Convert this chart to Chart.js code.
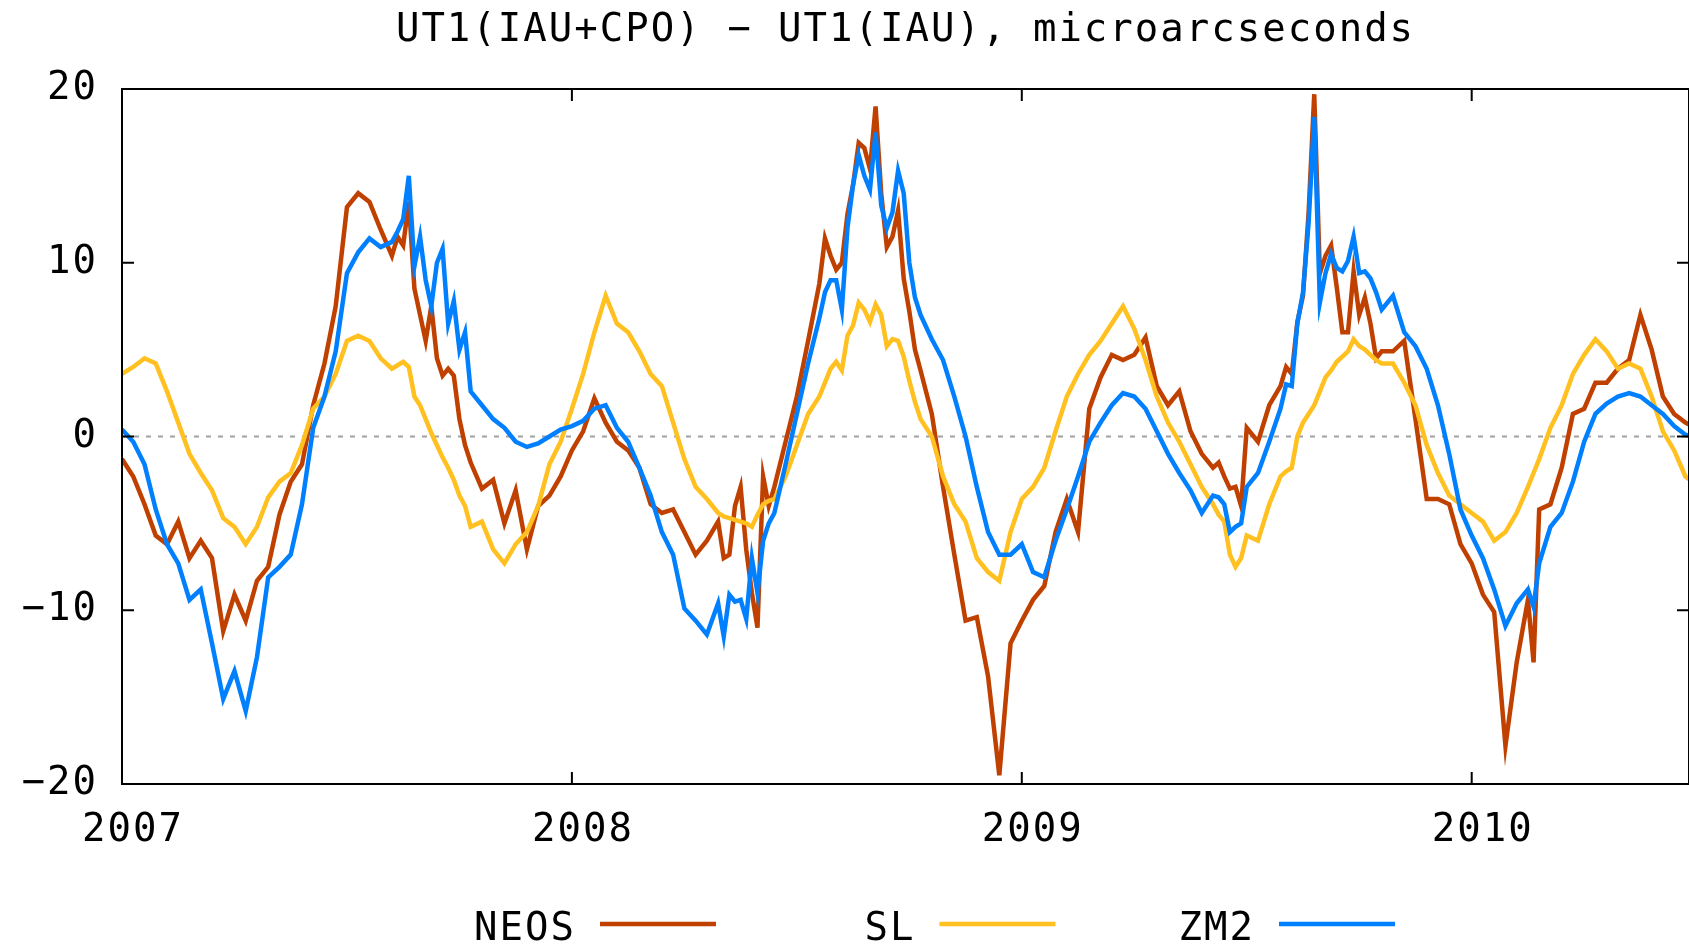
<!DOCTYPE html>
<html>
<head>
<meta charset="utf-8">
<title>UT1(IAU+CPO) − UT1(IAU)</title>
<script src="https://cdn.jsdelivr.net/npm/chart.js@4.4.0/dist/chart.umd.min.js"></script>
<style>
    html, body { margin: 0; padding: 0; background: #fff; overflow: hidden; }
</style>
</head>
<body>
<canvas id="utChart" width="1689" height="946"></canvas>
<script>
// ============== DATA (microarcseconds) ==============

const chartTitle = 'UT1(IAU+CPO) \u2212 UT1(IAU), microarcseconds';
const seriesNames = ['NEOS', 'SL', 'ZM2'];
const seriesColors = ['#c04000', '#ffc020', '#0080ff'];
const yearTicks = [2007, 2008, 2009, 2010];
const valueTicks = [-20, -10, 0, 10, 20];

// decimal years of the samples (denser where the curves are noisy)
const dates = [
    2007.000, 2007.025, 2007.050, 2007.075, 2007.100, 2007.125, 2007.150, 2007.175, 2007.200, 2007.225,
    2007.250, 2007.275, 2007.300, 2007.325, 2007.350, 2007.375, 2007.400, 2007.425, 2007.450, 2007.475,
    2007.500, 2007.525, 2007.550, 2007.575,
    2007.600, 2007.6125, 2007.625, 2007.6375, 2007.650, 2007.6625, 2007.675, 2007.6875, 2007.700, 2007.7125,
    2007.725, 2007.7375, 2007.750, 2007.7625, 2007.775,
    2007.800, 2007.825, 2007.850, 2007.875, 2007.900, 2007.925, 2007.950, 2007.975, 2008.000, 2008.025,
    2008.050, 2008.075, 2008.100, 2008.125, 2008.150, 2008.175, 2008.200, 2008.225, 2008.250, 2008.275,
    2008.300,
    2008.325, 2008.3375, 2008.350, 2008.3625, 2008.375, 2008.3875, 2008.400, 2008.4125, 2008.425, 2008.4375,
    2008.450,
    2008.475, 2008.500,
    2008.525, 2008.550, 2008.5625, 2008.575, 2008.5875, 2008.600, 2008.6125, 2008.625, 2008.6375, 2008.650,
    2008.6625, 2008.675, 2008.6875, 2008.700, 2008.7125, 2008.725, 2008.7375, 2008.750, 2008.7625, 2008.775,
    2008.800, 2008.825, 2008.850, 2008.875, 2008.900, 2008.925, 2008.950, 2008.975, 2009.000, 2009.025,
    2009.050, 2009.075, 2009.100, 2009.125, 2009.150, 2009.175, 2009.200, 2009.225, 2009.250, 2009.275,
    2009.300, 2009.325, 2009.350, 2009.375, 2009.400,
    2009.425, 2009.4375, 2009.450, 2009.4625, 2009.475, 2009.4875, 2009.500,
    2009.525, 2009.550,
    2009.575, 2009.5875, 2009.600, 2009.6125, 2009.625, 2009.6375, 2009.650, 2009.6625, 2009.675, 2009.6875,
    2009.700, 2009.7125, 2009.725, 2009.7375, 2009.750, 2009.7625, 2009.775, 2009.7875, 2009.800,
    2009.825, 2009.850, 2009.875, 2009.900, 2009.925, 2009.950, 2009.975, 2010.000, 2010.025, 2010.050,
    2010.075, 2010.100, 2010.125, 2010.1375, 2010.150, 2010.175, 2010.200, 2010.225, 2010.250, 2010.275,
    2010.300, 2010.325, 2010.350, 2010.375, 2010.400, 2010.425, 2010.450, 2010.475, 2010.490
];

const neos = [
    -1.3, -2.3, -3.9, -5.7, -6.2, -4.9, -7.0, -6.0, -7.0, -11.2,
    -9.1, -10.6, -8.3, -7.5, -4.5, -2.6, -1.6, 1.8, 4.2, 7.5,
    13.2, 14.0, 13.5, 11.9,
    10.4, 11.5, 11.0, 13.5, 8.5, 7.0, 5.5, 7.5, 4.5, 3.5,
    3.9, 3.5, 1.0, -0.5, -1.5,
    -3.0, -2.5, -5.0, -3.1, -6.5, -4.0, -3.4, -2.3, -0.8, 0.3,
    2.2, 0.8, -0.3, -0.8, -1.8, -3.9, -4.4, -4.2, -5.5, -6.8,
    -6.0,
    -4.9, -7.0, -6.8, -4.0, -2.9, -6.5, -9.0, -11.0, -2.3, -4.0,
    -2.9,
    -0.3, 2.3,
    5.5, 8.8, 11.4, 10.4, 9.6, 10.0, 12.8, 14.5, 16.9, 16.6,
    15.4, 19.0, 14.0, 10.9, 11.5, 13.0, 9.1, 7.2, 5.0, 3.8,
    1.3, -2.9, -6.8, -10.6, -10.4, -13.8, -19.5, -11.9, -10.6, -9.4,
    -8.6, -5.5, -3.6, -5.5, 1.6, 3.4, 4.7, 4.4, 4.7, 5.7,
    2.9, 1.8, 2.6, 0.3, -1.0,
    -1.8, -1.5, -2.3, -3.0, -2.9, -4.0, 0.5,
    -0.3, 1.8,
    2.9, 4.0, 3.6, 6.6, 8.1, 12.9, 19.7, 9.4, 10.4, 11.0,
    8.6, 6.0, 6.0, 9.5, 7.0, 8.0, 6.5, 4.5, 4.9,
    4.9, 5.5, 1.0, -3.6, -3.6, -3.9, -6.2, -7.3, -9.1, -10.1,
    -17.8, -13.0, -9.4, -13.0, -4.2, -3.9, -1.8, 1.3, 1.6, 3.1,
    3.1, 3.9, 4.4, 7.0, 5.0, 2.3, 1.3, 0.8, 0.6
];

const sl = [
    3.6, 4.0, 4.5, 4.2, 2.6, 0.8, -1.0, -2.1, -3.1, -4.7,
    -5.2, -6.2, -5.2, -3.5, -2.6, -2.1, -0.5, 1.6, 2.3, 3.6,
    5.5, 5.8, 5.5, 4.5,
    3.9, 4.1, 4.3, 4.0, 2.3, 1.8, 1.0, 0.2, -0.5, -1.2,
    -1.8, -2.5, -3.4, -4.0, -5.2,
    -4.9, -6.5, -7.3, -6.2, -5.5, -4.0, -1.6, -0.3, 1.6, 3.6,
    6.0, 8.1, 6.5, 6.0, 4.9, 3.6, 2.9, 0.8, -1.3, -2.9,
    -3.6,
    -4.4, -4.6, -4.7, -4.8, -4.9, -5.0, -5.2, -4.5, -3.9, -3.7,
    -3.6,
    -2.3, -0.5,
    1.3, 2.3, 3.1, 3.9, 4.3, 3.8, 5.8, 6.4, 7.7, 7.3,
    6.6, 7.6, 7.0, 5.2, 5.6, 5.5, 4.6, 3.2, 2.0, 1.0,
    0.0, -2.3, -3.9, -4.9, -7.0, -7.8, -8.3, -5.5, -3.6, -2.9,
    -1.8, 0.3, 2.3, 3.6, 4.7, 5.5, 6.5, 7.5, 6.2, 4.4,
    2.3, 0.8, -0.3, -1.6, -2.9,
    -3.9, -4.5, -4.9, -6.8, -7.5, -7.0, -5.7,
    -6.0, -3.9,
    -2.3, -2.0, -1.8, 0.0, 0.8, 1.3, 1.8, 2.6, 3.4, 3.8,
    4.3, 4.6, 4.9, 5.6, 5.2, 5.0, 4.7, 4.4, 4.2,
    4.2, 3.1, 1.8, -0.5, -2.1, -3.4, -3.9, -4.4, -4.9, -6.0,
    -5.5, -4.4, -2.9, -2.1, -1.3, 0.5, 1.8, 3.6, 4.7, 5.6,
    4.9, 3.9, 4.2, 3.9, 2.3, 0.3, -0.8, -2.3, -2.6
];

const zm2 = [
    0.4, -0.3, -1.6, -4.2, -6.2, -7.3, -9.4, -8.8, -11.9, -15.1,
    -13.5, -15.8, -12.7, -8.1, -7.5, -6.8, -3.9, 0.5, 2.3, 4.9,
    9.4, 10.6, 11.4, 10.9,
    11.2, 11.8, 12.5, 15.0, 9.8, 11.5, 9.0, 7.5, 10.0, 10.8,
    6.5, 7.8, 5.0, 6.0, 2.6,
    1.8, 1.0, 0.5, -0.3, -0.6, -0.4, 0.0, 0.4, 0.6, 0.9,
    1.6, 1.8, 0.5, -0.3, -1.8, -3.4, -5.5, -6.8, -9.9, -10.6,
    -11.4,
    -9.6, -11.5, -9.1, -9.5, -9.4, -10.5, -7.0, -9.0, -6.0, -5.0,
    -4.4,
    -1.6, 1.3,
    4.2, 6.8, 8.3, 9.0, 9.0, 7.3, 12.0, 14.5, 16.2, 15.0,
    14.2, 17.5, 13.3, 12.0, 12.9, 15.3, 14.0, 10.0, 8.0, 7.0,
    5.6, 4.4, 2.3, 0.0, -2.9, -5.5, -6.8, -6.8, -6.2, -7.8,
    -8.1, -6.0, -4.2, -2.3, -0.3, 0.8, 1.8, 2.5, 2.3, 1.6,
    0.3, -1.0, -2.1, -3.1, -4.4,
    -3.4, -3.5, -3.9, -5.5, -5.2, -5.0, -2.9,
    -2.1, -0.3,
    1.6, 3.0, 2.9, 6.5, 8.3, 12.3, 18.4, 7.7, 9.4, 10.5,
    9.7, 9.5, 10.1, 11.5, 9.4, 9.5, 9.1, 8.3, 7.3,
    8.1, 6.0, 5.2, 3.9, 1.8, -1.0, -4.2, -5.7, -7.0, -8.8,
    -10.9, -9.6, -8.8, -9.8, -7.3, -5.2, -4.4, -2.6, -0.3, 1.3,
    1.9, 2.3, 2.5, 2.3, 1.8, 1.3, 0.6, 0.1, 0.0
];

// ============== STYLE ==============

const FONT_FAMILY = '"DejaVu Sans Mono", monospace';
const FONT_SIZE = 39;
const FONT = `${FONT_SIZE}px ${FONT_FAMILY}`;

// the plot is cut off on the right, like in the original picture
const X_MAX = 2010.483;

function toPoints(values) {
    return dates.map((d, i) => ({ x: d, y: values[i] }));
}

function minusLabel(v) {
    return v < 0 ? '\u2212' + Math.abs(v) : String(v);
}

// Frame, zero axis, title and legend drawn gnuplot-style
const gnuplotLook = {
    id: 'gnuplotLook',
    beforeDraw(chart) {
        chart.ctx.letterSpacing = '2px';
    },
    beforeDatasetsDraw(chart) {
        const { ctx, chartArea: a, scales } = chart;
        const y0 = scales.y.getPixelForValue(0);
        ctx.save();
        ctx.strokeStyle = '#a0a0a0';
        ctx.lineWidth = 2;
        ctx.setLineDash([5, 7]);
        ctx.beginPath();
        ctx.moveTo(a.left, y0);
        ctx.lineTo(a.right, y0);
        ctx.stroke();
        ctx.restore();
    },
    afterDatasetsDraw(chart) {
        const { ctx, chartArea: a, scales } = chart;
        const tick = 12;
        ctx.save();
        ctx.strokeStyle = '#000';
        ctx.lineWidth = 2;
        ctx.strokeRect(a.left, a.top, a.right - a.left, a.bottom - a.top);
        ctx.beginPath();
        yearTicks.forEach(v => {
            const x = scales.x.getPixelForValue(v);
            ctx.moveTo(x, a.bottom); ctx.lineTo(x, a.bottom - tick);
            ctx.moveTo(x, a.top); ctx.lineTo(x, a.top + tick);
        });
        valueTicks.forEach(v => {
            const y = scales.y.getPixelForValue(v);
            ctx.moveTo(a.left, y); ctx.lineTo(a.left + tick, y);
            ctx.moveTo(a.right, y); ctx.lineTo(a.right - tick, y);
        });
        ctx.stroke();
        ctx.restore();
    },
    afterDraw(chart) {
        const { ctx, chartArea: a } = chart;
        ctx.save();
        ctx.font = FONT;
        ctx.fillStyle = '#000';
        ctx.textBaseline = 'alphabetic';

        // title, centred over the plot
        ctx.textAlign = 'center';
        ctx.fillText(chartTitle, (a.left + a.right) / 2, 41);

        // legend: name, then a line sample, in equal columns
        ctx.textAlign = 'right';
        chart.data.datasets.forEach((ds, i) => {
            const lineStart = 600 + 339.5 * i;
            ctx.fillStyle = '#000';
            ctx.fillText(ds.label, lineStart - 24, 940);
            ctx.strokeStyle = ds.borderColor;
            ctx.lineWidth = 4.5;
            ctx.beginPath();
            ctx.moveTo(lineStart, 924);
            ctx.lineTo(lineStart + 116, 924);
            ctx.stroke();
        });
        ctx.restore();
    }
};

const ctx = document.getElementById('utChart').getContext('2d');

const utChart = new Chart(ctx, {
    type: 'line',
    data: {
        datasets: [neos, sl, zm2].map((values, i) => ({
            label: seriesNames[i],
            data: toPoints(values),
            borderColor: seriesColors[i],
            backgroundColor: seriesColors[i],
            borderWidth: 4.5,
            pointRadius: 0,
            tension: 0,
            fill: false,
            order: 2 - i   // ZM2 drawn last, on top
        }))
    },
    options: {
        responsive: false,
        animation: false,
        devicePixelRatio: 1,
        layout: { padding: { top: 89, right: 0, bottom: 0, left: 0 } },
        plugins: {
            legend: { display: false },
            title: { display: false },
            tooltip: { enabled: false }
        },
        scales: {
            x: {
                type: 'linear',
                min: 2007,
                max: X_MAX,
                grid: { display: false, drawTicks: false },
                border: { display: false },
                ticks: {
                    stepSize: 1,
                    includeBounds: false,
                    autoSkip: false,
                    maxRotation: 0,
                    padding: 23,
                    labelOffset: 11,
                    color: '#000',
                    font: { family: FONT_FAMILY, size: FONT_SIZE },
                    callback: v => String(v)
                },
                afterFit(scale) { scale.height = 162; }
            },
            y: {
                min: -20,
                max: 20,
                grid: { display: false, drawTicks: false },
                border: { display: false },
                ticks: {
                    stepSize: 10,
                    padding: 24,
                    color: '#000',
                    font: { family: FONT_FAMILY, size: FONT_SIZE },
                    callback: minusLabel
                },
                afterFit(scale) { scale.width = 122; }
            }
        }
    },
    plugins: [gnuplotLook]
});
</script>
</body>
</html>
